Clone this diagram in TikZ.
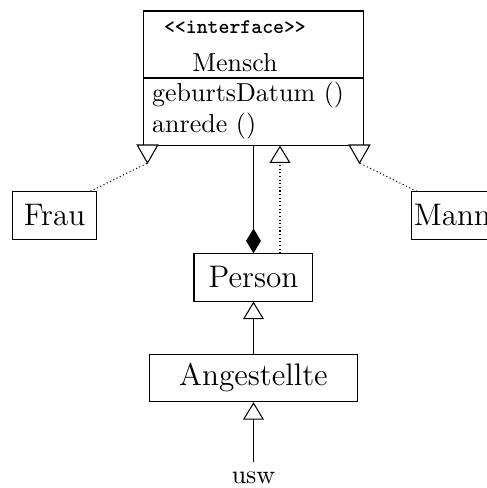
\documentclass[tikz,border=0pt]{standalone}
\usetikzlibrary{arrows.meta}

\begin{document}
\begin{tikzpicture}[
    x=0.385pt, y=-0.385pt,
    cls/.style={draw, font=\large, inner sep=0pt, minimum height=18.2pt},
    txt/.style={inner sep=0pt, anchor=base west},
    gen/.style={-{Triangle[open, length=6.7pt, width=8pt]}},
    real/.style={gen, densely dotted},
    comp/.style={-{Diamond[length=9.6pt, width=5.7pt]}},
    dep/.style={densely dotted},
    hollow/.style={draw, fill=white}
]
\useasboundingbox (0,0) rectangle (487,488);
\clip (0,0) rectangle (487,488);

% Interface
\node[draw, inner sep=0pt, minimum width=84.7pt, minimum height=51.6pt] (mensch) at (253.5,78) {};
\draw (mensch.west) -- (mensch.east);
\node[inner sep=0pt, anchor=base, font=\footnotesize\ttfamily\bfseries] (stereo) at (235,33) {{<}{<}interface{>}{>}};
\node[inner sep=0pt, anchor=base] (mname) at (235,71) {Mensch};
\node[txt] (op1) at (151.7,101.5) {geburtsDatum ()};
\node[txt] (op2) at (151.7,132.7) {anrede ()};

% Classes
\node[cls, minimum width=32.5pt] (frau) at (54.5,215.4) {Frau};
\node[cls, anchor=west, inner xsep=1pt] (mann) at (410.7,215.4) {Mann};
\node[cls, minimum width=45.8pt] (person) at (253.5,277.5) {Person};
\node[cls, minimum width=80pt] (angest) at (253.5,378) {Angestellte};
\node[anchor=base, inner sep=3.5pt] (usw) at (253.5,483) {usw};

% Realisations from the side
\coordinate (ltip) at (147.5,163);
\coordinate (rtip) at (359.5,163);
\draw[dep] ([xshift=-2.6pt]frau.north east) -- (ltip);
\draw[dep] ([xshift=2.3pt]mann.north west) -- (rtip);
\draw[hollow] (ltip) -- ++(-10.3,-18) -- ++(20.6,0) -- cycle;
\draw[hollow] (rtip) -- ++(-10.3,-18) -- ++(20.6,0) -- cycle;

% Arrows
\draw[comp] (mensch) -- (person);
\draw[real] ([xshift=10.2pt]person.north) -- ([xshift=10.2pt]mensch.south);
\draw[gen] (angest) -- (person);
\draw[gen] (usw) -- (angest);

\end{tikzpicture}
\end{document}
